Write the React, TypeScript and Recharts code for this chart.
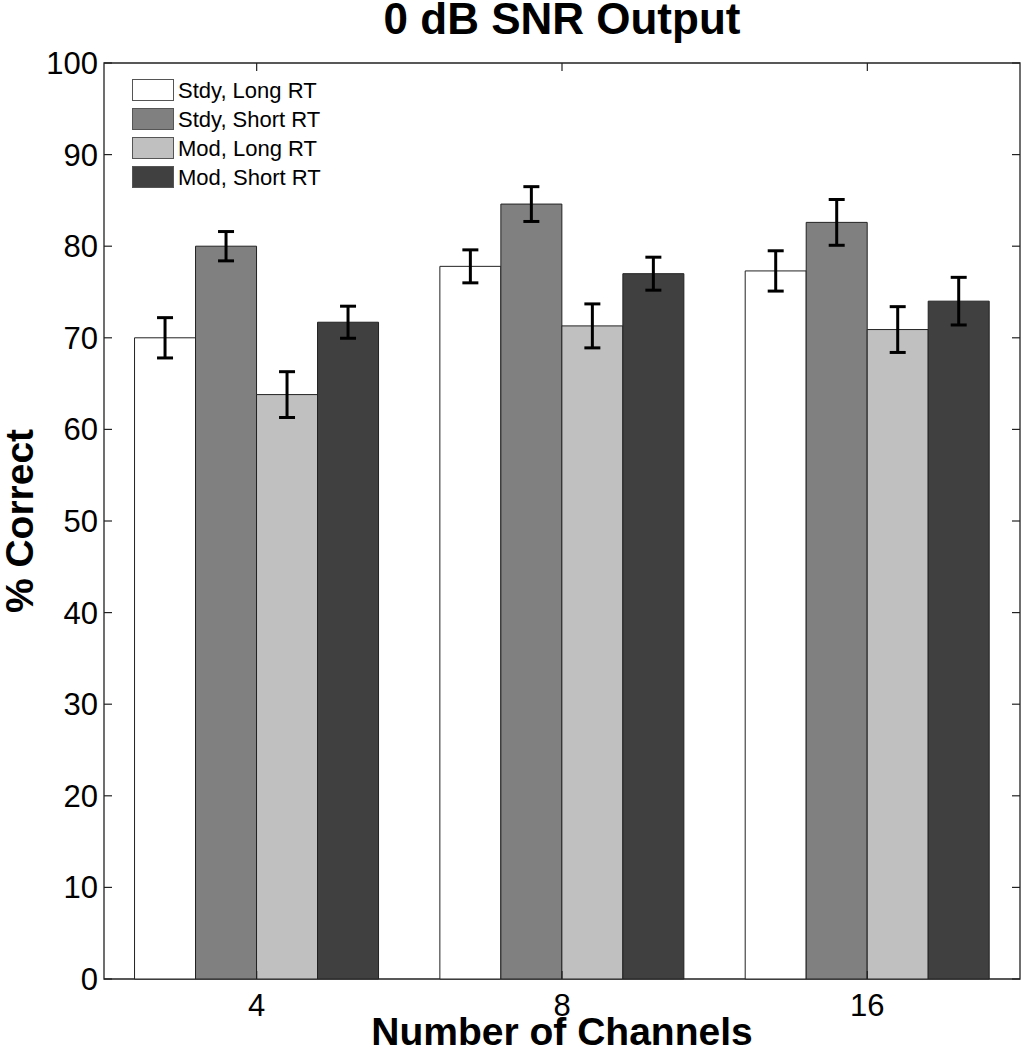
import { BarChart, Bar, XAxis, YAxis, ErrorBar, ReferenceArea, Customized } from 'recharts';

const channels = ['4', '8', '16'];
const stdyLong = [70.0, 77.8, 77.3];
const stdyLongErr = [2.2, 1.8, 2.2];
const stdyShort = [80.0, 84.6, 82.6];
const stdyShortErr = [1.6, 1.9, 2.5];
const modLong = [63.8, 71.3, 70.9];
const modLongErr = [2.5, 2.4, 2.5];
const modShort = [71.7, 77.0, 74.0];
const modShortErr = [1.75, 1.8, 2.6];
const yTicks = [0, 10, 20, 30, 40, 50, 60, 70, 80, 90, 100];

const series = [
  { key: 'stdyLong', name: 'Stdy, Long RT', fill: '#ffffff' },
  { key: 'stdyShort', name: 'Stdy, Short RT', fill: '#808080' },
  { key: 'modLong', name: 'Mod, Long RT', fill: '#c0c0c0' },
  { key: 'modShort', name: 'Mod, Short RT', fill: '#404040' },
];

const data = channels.map((c, i) => ({
  channels: c,
  stdyLong: stdyLong[i],
  stdyLongErr: stdyLongErr[i],
  stdyShort: stdyShort[i],
  stdyShortErr: stdyShortErr[i],
  modLong: modLong[i],
  modLongErr: modLongErr[i],
  modShort: modShort[i],
  modShortErr: modShortErr[i],
}));

const FONT = '"Liberation Sans", Arial, Helvetica, sans-serif';
const W = 1021;
const H = 1050;
const LEFT = 104;
const RIGHT = 1020;
const TOP = 63;
const BOTTOM = 979;
const TICK = 8;

function YTick(props: any) {
  const { y, payload } = props;
  return (
    <g>
      <line x1={LEFT} x2={LEFT + TICK} y1={y} y2={y} stroke="#222" strokeWidth={1.2} />
      <line x1={RIGHT - TICK} x2={RIGHT} y1={y} y2={y} stroke="#222" strokeWidth={1.2} />
      <text x={LEFT - 6} y={y + 11} textAnchor="end" fontSize={31} fontFamily={FONT} fill="#000">
        {payload.value}
      </text>
    </g>
  );
}

function XTick(props: any) {
  const { x, payload } = props;
  return (
    <g>
      <line x1={x} x2={x} y1={BOTTOM} y2={BOTTOM - TICK} stroke="#222" strokeWidth={1.2} />
      <line x1={x} x2={x} y1={TOP} y2={TOP + TICK} stroke="#222" strokeWidth={1.2} />
      <text x={x} y={BOTTOM + 37} textAnchor="middle" fontSize={31} fontFamily={FONT} fill="#000">
        {payload.value}
      </text>
    </g>
  );
}

// legend + title + axis titles, drawn in the svg so they take no layout space
function Labels() {
  const cx = (LEFT + RIGHT) / 2;
  const cy = (TOP + BOTTOM) / 2;
  return (
    <g fontFamily={FONT} fill="#000">
      {series.map((s, i) => (
        <g key={s.key}>
          <rect x={132.5} y={79.5 + i * 29} width={41} height={21} fill={s.fill} stroke="#555" strokeWidth={1} />
          <text x={178} y={98 + i * 29} fontSize={22}>
            {s.name}
          </text>
        </g>
      ))}
      <g fontWeight="bold">
        <text x={cx} y={34} textAnchor="middle" fontSize={44}>
          0 dB SNR Output
        </text>
        <text x={cx} y={1045} textAnchor="middle" fontSize={39}>
          Number of Channels
        </text>
        <text x={33} y={cy} textAnchor="middle" fontSize={39} transform={`rotate(-90, 33, ${cy})`}>
          % Correct
        </text>
      </g>
    </g>
  );
}

export default function App() {
  return (
    <div style={{ position: 'absolute', left: 0, top: 0, width: W, height: H, background: '#fff' }}>
      <BarChart
        width={W}
        height={H}
        data={data}
        margin={{ top: TOP, right: W - RIGHT, bottom: 0, left: 0 }}
        barCategoryGap="10%"
        barGap={0}
      >
        <XAxis
          dataKey="channels"
          height={H - BOTTOM}
          axisLine={false}
          tickLine={false}
          tickSize={0}
          tick={<XTick />}
          interval={0}
        />
        <YAxis
          domain={[0, 100]}
          ticks={yTicks}
          width={LEFT}
          axisLine={false}
          tickLine={false}
          tickSize={0}
          tick={<YTick />}
          interval={0}
        />
        {series.map((s) => (
          <Bar
            key={s.key}
            dataKey={s.key}
            name={s.name}
            fill={s.fill}
            stroke="#222"
            strokeWidth={1}
            isAnimationActive={false}
          >
            <ErrorBar dataKey={s.key + 'Err'} width={8} stroke="#000" strokeWidth={3} direction="y" />
          </Bar>
        ))}
        <ReferenceArea y1={0} y2={100} fill="none" stroke="#222" strokeWidth={1.3} ifOverflow="visible" />
        <Customized component={<Labels />} />
      </BarChart>
    </div>
  );
}
